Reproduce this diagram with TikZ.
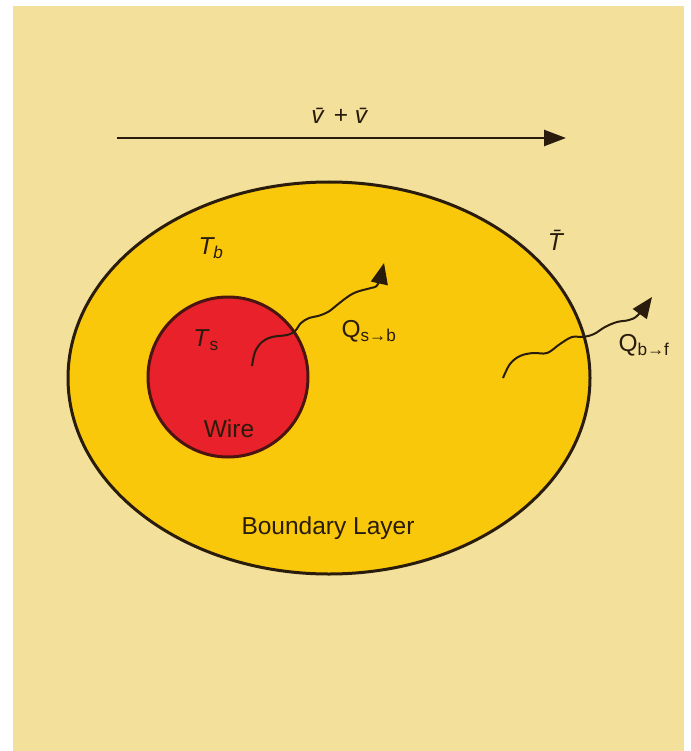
\documentclass[tikz,border=0pt]{standalone}
\usepackage{xcolor}
\usepackage{tikz}
\usepackage{fontspec}
\setmainfont{Liberation Sans}
\usetikzlibrary{
  arrows.meta,
  shapes.geometric,
  positioning,
  calc
}
\definecolor{hwBack}{HTML}{F3E09B}
\definecolor{hwLayer}{HTML}{F9C80B}
\definecolor{hwWire}{HTML}{E8212A}
\definecolor{hwLine}{HTML}{2A1C0C}
\definecolor{hwWireLine}{HTML}{4A1410}
\tikzset{
  hwtext/.style={font=\fontsize{24.5}{29}\selectfont, text=hwLine, inner sep=0pt},
  layer/.style={
    draw=hwLine, fill=hwLayer, ellipse, line width=3pt,
    minimum width=522pt, minimum height=392pt
  },
  wirenode/.style={
    draw=hwWireLine, fill=hwWire, circle, line width=3pt, minimum size=160pt
  },
  flow/.style={-{Triangle[length=22pt, width=16pt]}, line width=2.5pt, hwLine},
  heat/.style={-{Triangle[length=21pt, width=17pt]}, line width=2pt, hwLine}
}

\begin{document}
\begin{tikzpicture}[x=1pt, y=-1pt]
  \useasboundingbox (0,0) rectangle (690,751);
  \fill[white] (0,0) rectangle (690,751);
  \fill[hwBack] (13,6) rectangle (684,751);

  \coordinate (flowL) at (117,138);
  \coordinate (flowR) at (566,138);
  \draw[flow] (flowL) -- (flowR);
  \node[hwtext] (vel) at (341,116) {\textit{\=v} + \textit{\=v}};

  \node[layer] (bl) at (329,378) {};
  \node[wirenode] (wire) at (228,377) {};

  \node[hwtext] (Tb) at (211,248) {\textit{T\textsubscript{b}}};
  \node[hwtext] (Tf) at (557,240) {\textit{\=T}};
  \node[hwtext] (Ts) at (206,340) {\textit{T}\textsubscript{s}};
  \node[hwtext] (wlabel) at (229,429) {Wire};
  \node[hwtext] (blabel) at (328,528) {Boundary Layer};
  \node[hwtext] (Qsb) at (369,331) {Q\textsubscript{s→b}};
  \node[hwtext] (Qbf) at (644,345) {Q\textsubscript{b→f}};

  \coordinate (qsStart) at (252,366);
  \coordinate (qsEnd) at (384,263);
  \coordinate (qbStart) at (503,378);
  \coordinate (qbEnd) at (652,297);
  \draw[heat] plot[smooth, tension=0.6] coordinates {(qsStart) (255,352) (262,342) (272,337) (287,335) (295,331) (301,323) (309,318) (318,316) (328,312) (337,305) (346,298) (354,293) (363,290) (371,288) (378,284) (qsEnd)};
  \draw[heat] plot[smooth, tension=0.6] coordinates {(qbStart) (510,364) (520,356) (533,353) (547,353) (560,344) (572,337) (583,337) (594,334) (605,327) (617,322) (629,320) (638,315) (qbEnd)};
\end{tikzpicture}
\end{document}
